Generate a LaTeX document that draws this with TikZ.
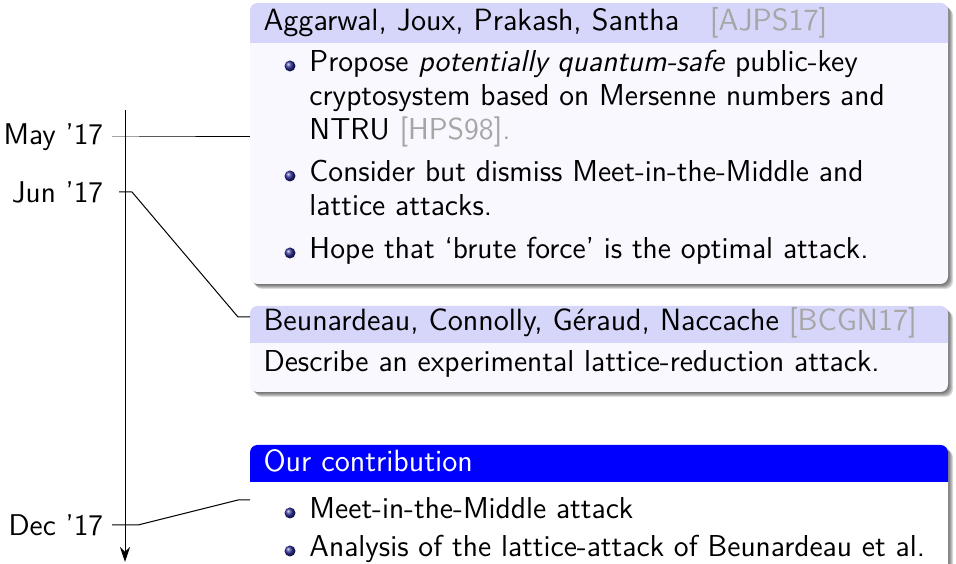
\documentclass[tikz,border=0pt]{standalone}
\usepackage{fontspec}
\usepackage{tikz}
\usepackage{xcolor}
\usetikzlibrary{arrows.meta}

\definecolor{hdviolet}{RGB}{214,214,250}
\definecolor{bodyviolet}{RGB}{248,248,254}
\definecolor{refgray}{RGB}{166,166,166}
\definecolor{ballblue}{RGB}{45,45,150}

\newcommand{\hdfont}{\fontsize{12.3}{15}\selectfont\sffamily}
\newcommand{\bdfont}{\fontsize{12.1}{14}\selectfont\sffamily}
\newcommand{\dtfont}{\fontsize{12}{14}\selectfont\sffamily}

\tikzset{
  datelabel/.style={anchor=east, font=\dtfont},
  textline/.style={anchor=base west, inner sep=0pt, font=\bdfont},
  headline/.style={anchor=base west, inner sep=0pt, font=\hdfont},
  itemball/.style={circle, inner sep=0pt, minimum size=4.4pt, shading=ball, ball color=ballblue},
}

\newcommand{\refcite}[1]{\textcolor{refgray}{#1}}

% block: left, right, top, header bottom, bottom, header colour, body colour
\newcommand{\tlblock}[7]{%
  \foreach \s in {1,...,5}
    \fill[black, opacity=0.14, rounded corners=3pt] (#1+\s,#3+\s) rectangle (#2+\s,#5+\s);
  \fill[#7, rounded corners=3pt] (#1,#3) rectangle (#2,#5);
  \fill[#6] (#1,#4) {[rounded corners=3pt] -- (#1,#3) -- (#2,#3)} -- (#2,#4) -- cycle;
}

\begin{document}
\begin{tikzpicture}[x=0.4pt, y=-0.4pt]
  \useasboundingbox (0,0) rectangle (956,564);
  \clip (0,0) rectangle (956,564);

  % blocks
  \tlblock{250}{948}{3}{43}{284}{hdviolet}{bodyviolet}
  \tlblock{250}{948}{306}{343}{392}{hdviolet}{bodyviolet}
  \tlblock{250}{948}{445}{482}{620}{blue}{white}

  % first block
  \node[headline] (ajhd) at (263,31) {Aggarwal, Joux, Prakash, Santha\quad\refcite{[AJPS17]}};
  \node[itemball] (ajb1) at (290,66) {};
  \node[textline] (ajl1) at (309,72) {Propose \emph{potentially quantum-safe} public-key};
  \node[textline] (ajl2) at (309,106) {cryptosystem based on Mersenne numbers and};
  \node[textline] (ajl3) at (309,140) {NTRU \refcite{[HPS98].}};
  \node[itemball] (ajb2) at (290,176) {};
  \node[textline] (ajl4) at (309,182) {Consider but dismiss Meet-in-the-Middle and};
  \node[textline] (ajl5) at (309,216) {lattice attacks.};
  \node[itemball] (ajb3) at (290,253) {};
  \node[textline] (ajl6) at (309,259) {Hope that `brute force' is the optimal attack.};

  % second block
  \node[headline] (bchd) at (263,331) {Beunardeau, Connolly, Géraud, Naccache \refcite{[BCGN17]}};
  \node[textline] (bcl1) at (263,372) {Describe an experimental lattice-reduction attack.};

  % our block
  \node[headline, text=white] (ouhd) at (263,472) {Our contribution};
  \node[itemball] (oub1) at (290,513) {};
  \node[textline] (oul1) at (309,519) {Meet-in-the-Middle attack};
  \node[itemball] (oub2) at (290,551) {};
  \node[textline] (oul2) at (309,557) {Analysis of the lattice-attack of Beunardeau et al.};

  % timeline
  \coordinate (ttop) at (125,110); \coordinate (tbot) at (125,562);
  \draw[-{Stealth[length=6pt,width=4pt]}] (ttop) -- (tbot);

  \node[datelabel] (may) at (112,137) {May '17};
  \node[datelabel] (jun) at (112,192) {Jun '17};
  \node[datelabel] (dec) at (112,525) {Dec '17};

  \coordinate (mayr) at (138,137); \coordinate (ajin) at (250,137);
  \coordinate (junl) at (119,192); \coordinate (junr) at (132,192);
  \coordinate (bcbend) at (238,317); \coordinate (bcin) at (250,317);
  \coordinate (decr) at (138,525); \coordinate (oubend) at (238,500); \coordinate (ouin) at (250,500);

  \draw (may.east) -- (mayr) -- (ajin);
  \draw (junl) -- (junr) -- (bcbend) -- (bcin);
  \draw (dec.east) -- (decr) -- (oubend) -- (ouin);
\end{tikzpicture}
\end{document}
